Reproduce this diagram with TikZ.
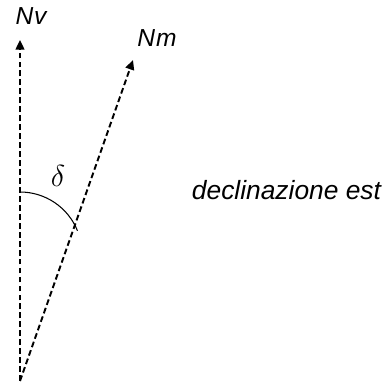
\documentclass[tikz,border=0pt]{standalone}
\usepackage{fontspec}
\setmainfont{Liberation Sans}
\usetikzlibrary{positioning,arrows.meta}

\begin{document}
\begin{tikzpicture}[
        label/.style={font=\fontsize{14}{16}\selectfont\itshape, anchor=base, inner sep=0pt},
        note/.style={font=\fontsize{15}{18}\selectfont\itshape, anchor=base, inner sep=0pt},
        arrow/.style={-{Triangle[length=5.5pt,width=5pt]}, line width=1.1pt, dash pattern=on 3.3pt off 1.8pt}
    ]
        \useasboundingbox (0,0) rectangle (7.8,7.66);
        \coordinate (origin) at (0.4,0.04);
        \coordinate (north) at (0.4,6.86);
        \coordinate (magnorth) at (2.66,6.46);
        \coordinate (arccentre) at (0.4,2.58);
        
        \node[label] (nv) at (0.62,7.16) {N\kern0.5pt v};
        \node[label] (nm) at (3.14,6.72) {N\kern0.5pt m};
        \node[note] (decl) at (5.73,3.66) {declinazione est};
        \node[inner sep=0pt] (delta) at (1.16,4.14) {\fontsize{17}{20}\selectfont$\delta$};
        
        \draw[arrow] (origin) -- (north);
        \draw[arrow] (origin) -- (magnorth);
        \draw[line width=0.6pt] ([shift={(90:1.24)}]arccentre) arc[start angle=90, end angle=22, radius=1.24];
    \end{tikzpicture}
\end{document}
